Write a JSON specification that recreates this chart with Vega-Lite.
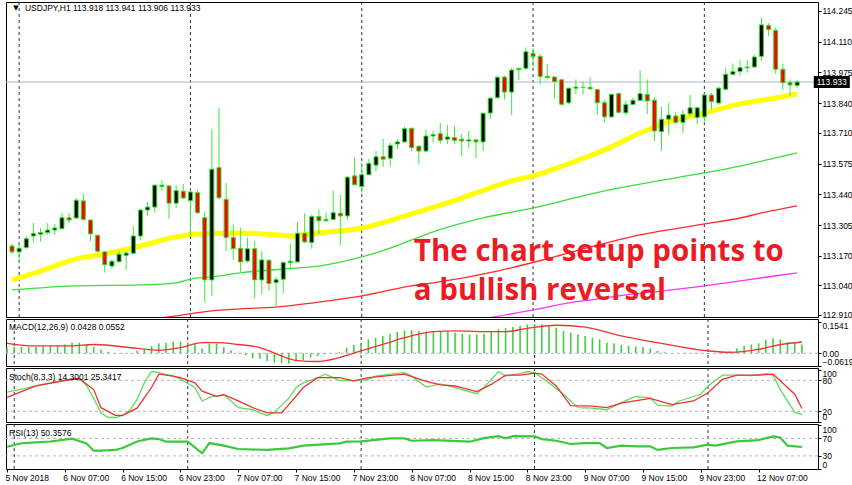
{
"$schema": "https://vega.github.io/schema/vega-lite/v6.json",
"background": "white",
"padding": {"left": 2, "top": 1, "right": 0, "bottom": 0},
"spacing": 2,
"bounds": "flush",
"config": {"view": {"stroke": "#000000", "strokeWidth": 1}, "axis": {"labelFont": "Liberation Sans", "labelFontSize": 8.5, "labelColor": "#000000", "tickColor": "#000000", "labelOverlap": false}},
"datasets": {
"bars": [
{"k":0,"time":"2018-11-05 23:00","o":113.213,"h":113.222,"l":113.178,"c":113.187,"macd":0.028},
{"k":1,"time":"2018-11-06 00:00","o":113.187,"h":113.231,"l":113.139,"c":113.203,"macd":0.031},
{"k":2,"time":"2018-11-06 01:00","o":113.206,"h":113.257,"l":113.201,"c":113.245,"macd":0.031},
{"k":3,"time":"2018-11-06 02:00","o":113.257,"h":113.314,"l":113.228,"c":113.267,"macd":0.031},
{"k":4,"time":"2018-11-06 03:00","o":113.265,"h":113.292,"l":113.232,"c":113.272,"macd":0.031},
{"k":5,"time":"2018-11-06 04:00","o":113.272,"h":113.314,"l":113.262,"c":113.283,"macd":0.033},
{"k":6,"time":"2018-11-06 05:00","o":113.283,"h":113.310,"l":113.262,"c":113.292,"macd":0.036},
{"k":7,"time":"2018-11-06 06:00","o":113.289,"h":113.359,"l":113.287,"c":113.337,"macd":0.039},
{"k":8,"time":"2018-11-06 07:00","o":113.337,"h":113.358,"l":113.314,"c":113.327,"macd":0.043},
{"k":9,"time":"2018-11-06 08:00","o":113.336,"h":113.424,"l":113.333,"c":113.414,"macd":0.051},
{"k":10,"time":"2018-11-06 09:00","o":113.411,"h":113.445,"l":113.327,"c":113.330,"macd":0.052},
{"k":11,"time":"2018-11-06 10:00","o":113.327,"h":113.330,"l":113.234,"c":113.266,"macd":0.043},
{"k":12,"time":"2018-11-06 11:00","o":113.260,"h":113.263,"l":113.184,"c":113.190,"macd":0.031},
{"k":13,"time":"2018-11-06 12:00","o":113.187,"h":113.190,"l":113.096,"c":113.131,"macd":0.019},
{"k":14,"time":"2018-11-06 13:00","o":113.125,"h":113.155,"l":113.113,"c":113.146,"macd":0.006},
{"k":15,"time":"2018-11-06 14:00","o":113.144,"h":113.193,"l":113.140,"c":113.177,"macd":0.0016},
{"k":16,"time":"2018-11-06 15:00","o":113.172,"h":113.190,"l":113.108,"c":113.182,"macd":-0.0016},
{"k":17,"time":"2018-11-06 16:00","o":113.181,"h":113.301,"l":113.178,"c":113.257,"macd":0.0016},
{"k":18,"time":"2018-11-06 17:00","o":113.257,"h":113.377,"l":113.236,"c":113.371,"macd":0.012},
{"k":19,"time":"2018-11-06 18:00","o":113.371,"h":113.406,"l":113.345,"c":113.384,"macd":0.019},
{"k":20,"time":"2018-11-06 19:00","o":113.384,"h":113.484,"l":113.359,"c":113.480,"macd":0.036},
{"k":21,"time":"2018-11-06 20:00","o":113.474,"h":113.503,"l":113.455,"c":113.480,"macd":0.049},
{"k":22,"time":"2018-11-06 21:00","o":113.477,"h":113.480,"l":113.333,"c":113.401,"macd":0.052},
{"k":23,"time":"2018-11-06 22:00","o":113.401,"h":113.480,"l":113.381,"c":113.456,"macd":0.057},
{"k":24,"time":"2018-11-06 23:00","o":113.453,"h":113.485,"l":113.418,"c":113.424,"macd":0.057},
{"k":25,"time":"2018-11-07 00:00","o":113.412,"h":113.459,"l":113.254,"c":113.450,"macd":0.052},
{"k":26,"time":"2018-11-07 01:00","o":113.447,"h":113.459,"l":113.354,"c":113.359,"macd":0.047},
{"k":27,"time":"2018-11-07 02:00","o":113.337,"h":113.363,"l":112.964,"c":113.064,"macd":0.024},
{"k":28,"time":"2018-11-07 03:00","o":113.064,"h":113.726,"l":112.994,"c":113.550,"macd":0.047},
{"k":29,"time":"2018-11-07 04:00","o":113.557,"h":113.820,"l":113.418,"c":113.425,"macd":0.047},
{"k":30,"time":"2018-11-07 05:00","o":113.418,"h":113.489,"l":113.191,"c":113.250,"macd":0.031},
{"k":31,"time":"2018-11-07 06:00","o":113.250,"h":113.308,"l":113.152,"c":113.201,"macd":0.015},
{"k":32,"time":"2018-11-07 07:00","o":113.203,"h":113.294,"l":113.099,"c":113.143,"macd":0.003},
{"k":33,"time":"2018-11-07 08:00","o":113.147,"h":113.250,"l":113.140,"c":113.201,"macd":-0.010},
{"k":34,"time":"2018-11-07 09:00","o":113.201,"h":113.235,"l":112.982,"c":113.064,"macd":-0.024},
{"k":35,"time":"2018-11-07 10:00","o":113.064,"h":113.191,"l":113.001,"c":113.152,"macd":-0.027},
{"k":36,"time":"2018-11-07 11:00","o":113.150,"h":113.155,"l":113.016,"c":113.048,"macd":-0.037},
{"k":37,"time":"2018-11-07 12:00","o":113.052,"h":113.078,"l":112.938,"c":113.065,"macd":-0.046},
{"k":38,"time":"2018-11-07 13:00","o":113.067,"h":113.147,"l":113.006,"c":113.140,"macd":-0.049},
{"k":39,"time":"2018-11-07 14:00","o":113.140,"h":113.225,"l":113.111,"c":113.146,"macd":-0.051},
{"k":40,"time":"2018-11-07 15:00","o":113.143,"h":113.319,"l":113.140,"c":113.269,"macd":-0.040},
{"k":41,"time":"2018-11-07 16:00","o":113.269,"h":113.357,"l":113.225,"c":113.231,"macd":-0.033},
{"k":42,"time":"2018-11-07 17:00","o":113.228,"h":113.351,"l":113.201,"c":113.342,"macd":-0.021},
{"k":43,"time":"2018-11-07 18:00","o":113.342,"h":113.374,"l":113.265,"c":113.324,"macd":-0.013},
{"k":44,"time":"2018-11-07 19:00","o":113.324,"h":113.359,"l":113.319,"c":113.330,"macd":-0.005},
{"k":45,"time":"2018-11-07 20:00","o":113.330,"h":113.455,"l":113.327,"c":113.359,"macd":0.0016},
{"k":46,"time":"2018-11-07 21:00","o":113.357,"h":113.438,"l":113.216,"c":113.345,"macd":0.006},
{"k":47,"time":"2018-11-07 22:00","o":113.345,"h":113.521,"l":113.327,"c":113.515,"macd":0.028},
{"k":48,"time":"2018-11-07 23:00","o":113.521,"h":113.601,"l":113.480,"c":113.482,"macd":0.040},
{"k":49,"time":"2018-11-08 00:00","o":113.474,"h":113.579,"l":113.447,"c":113.526,"macd":0.052},
{"k":50,"time":"2018-11-08 01:00","o":113.526,"h":113.597,"l":113.524,"c":113.576,"macd":0.068},
{"k":51,"time":"2018-11-08 02:00","o":113.568,"h":113.630,"l":113.541,"c":113.605,"macd":0.076},
{"k":52,"time":"2018-11-08 03:00","o":113.605,"h":113.684,"l":113.561,"c":113.594,"macd":0.085},
{"k":53,"time":"2018-11-08 04:00","o":113.598,"h":113.667,"l":113.561,"c":113.655,"macd":0.095},
{"k":54,"time":"2018-11-08 05:00","o":113.661,"h":113.682,"l":113.638,"c":113.670,"macd":0.104},
{"k":55,"time":"2018-11-08 06:00","o":113.670,"h":113.737,"l":113.667,"c":113.728,"macd":0.112},
{"k":56,"time":"2018-11-08 07:00","o":113.730,"h":113.733,"l":113.630,"c":113.645,"macd":0.113},
{"k":57,"time":"2018-11-08 08:00","o":113.651,"h":113.654,"l":113.572,"c":113.630,"macd":0.109},
{"k":58,"time":"2018-11-08 09:00","o":113.630,"h":113.724,"l":113.623,"c":113.696,"macd":0.106},
{"k":59,"time":"2018-11-08 10:00","o":113.696,"h":113.718,"l":113.667,"c":113.702,"macd":0.109},
{"k":60,"time":"2018-11-08 11:00","o":113.706,"h":113.753,"l":113.662,"c":113.677,"macd":0.109},
{"k":61,"time":"2018-11-08 12:00","o":113.682,"h":113.744,"l":113.662,"c":113.692,"macd":0.106},
{"k":62,"time":"2018-11-08 13:00","o":113.689,"h":113.739,"l":113.660,"c":113.677,"macd":0.101},
{"k":63,"time":"2018-11-08 14:00","o":113.682,"h":113.704,"l":113.608,"c":113.674,"macd":0.095},
{"k":64,"time":"2018-11-08 15:00","o":113.674,"h":113.718,"l":113.642,"c":113.679,"macd":0.092},
{"k":65,"time":"2018-11-08 16:00","o":113.679,"h":113.683,"l":113.598,"c":113.670,"macd":0.092},
{"k":66,"time":"2018-11-08 17:00","o":113.670,"h":113.798,"l":113.630,"c":113.796,"macd":0.095},
{"k":67,"time":"2018-11-08 18:00","o":113.797,"h":113.867,"l":113.770,"c":113.862,"macd":0.106},
{"k":68,"time":"2018-11-08 19:00","o":113.864,"h":113.961,"l":113.862,"c":113.954,"macd":0.117},
{"k":69,"time":"2018-11-08 20:00","o":113.955,"h":113.960,"l":113.857,"c":113.889,"macd":0.122},
{"k":70,"time":"2018-11-08 21:00","o":113.889,"h":113.996,"l":113.788,"c":113.986,"macd":0.128},
{"k":71,"time":"2018-11-08 22:00","o":113.987,"h":113.996,"l":113.941,"c":113.993,"macd":0.135},
{"k":72,"time":"2018-11-08 23:00","o":113.993,"h":114.084,"l":113.989,"c":114.066,"macd":0.141},
{"k":73,"time":"2018-11-09 00:00","o":114.058,"h":114.081,"l":113.996,"c":114.046,"macd":0.144},
{"k":74,"time":"2018-11-09 01:00","o":114.046,"h":114.055,"l":113.923,"c":113.958,"macd":0.141},
{"k":75,"time":"2018-11-09 02:00","o":113.958,"h":114.011,"l":113.945,"c":113.952,"macd":0.134},
{"k":76,"time":"2018-11-09 03:00","o":113.955,"h":113.958,"l":113.862,"c":113.935,"macd":0.125},
{"k":77,"time":"2018-11-09 04:00","o":113.943,"h":113.948,"l":113.827,"c":113.835,"macd":0.109},
{"k":78,"time":"2018-11-09 05:00","o":113.842,"h":113.908,"l":113.835,"c":113.906,"macd":0.101},
{"k":79,"time":"2018-11-09 06:00","o":113.906,"h":113.945,"l":113.879,"c":113.911,"macd":0.092},
{"k":80,"time":"2018-11-09 07:00","o":113.909,"h":113.935,"l":113.879,"c":113.910,"macd":0.085},
{"k":81,"time":"2018-11-09 08:00","o":113.910,"h":113.955,"l":113.900,"c":113.903,"macd":0.076},
{"k":82,"time":"2018-11-09 09:00","o":113.900,"h":113.903,"l":113.788,"c":113.842,"macd":0.068},
{"k":83,"time":"2018-11-09 10:00","o":113.842,"h":113.856,"l":113.755,"c":113.780,"macd":0.052},
{"k":84,"time":"2018-11-09 11:00","o":113.780,"h":113.882,"l":113.774,"c":113.879,"macd":0.049},
{"k":85,"time":"2018-11-09 12:00","o":113.882,"h":113.888,"l":113.797,"c":113.800,"macd":0.040},
{"k":86,"time":"2018-11-09 13:00","o":113.798,"h":113.850,"l":113.788,"c":113.835,"macd":0.036},
{"k":87,"time":"2018-11-09 14:00","o":113.835,"h":113.864,"l":113.832,"c":113.853,"macd":0.033},
{"k":88,"time":"2018-11-09 15:00","o":113.853,"h":113.985,"l":113.850,"c":113.882,"macd":0.031},
{"k":89,"time":"2018-11-09 16:00","o":113.879,"h":113.945,"l":113.791,"c":113.850,"macd":0.024},
{"k":90,"time":"2018-11-09 17:00","o":113.853,"h":113.867,"l":113.674,"c":113.718,"macd":0.012},
{"k":91,"time":"2018-11-09 18:00","o":113.715,"h":113.824,"l":113.630,"c":113.770,"macd":0.005},
{"k":92,"time":"2018-11-09 19:00","o":113.770,"h":113.842,"l":113.701,"c":113.788,"macd":0.0016},
{"k":93,"time":"2018-11-09 20:00","o":113.784,"h":113.803,"l":113.748,"c":113.756,"macd":0.0},
{"k":94,"time":"2018-11-09 21:00","o":113.756,"h":113.812,"l":113.709,"c":113.791,"macd":-0.0016},
{"k":95,"time":"2018-11-09 22:00","o":113.794,"h":113.876,"l":113.784,"c":113.820,"macd":-0.0016},
{"k":96,"time":"2018-11-09 23:00","o":113.777,"h":113.824,"l":113.748,"c":113.820,"macd":-0.0016},
{"k":97,"time":"2018-11-12 00:00","o":113.780,"h":113.885,"l":113.753,"c":113.876,"macd":-0.0016},
{"k":98,"time":"2018-11-12 01:00","o":113.876,"h":113.886,"l":113.812,"c":113.847,"macd":0.0},
{"k":99,"time":"2018-11-12 02:00","o":113.841,"h":113.911,"l":113.832,"c":113.906,"macd":0.005},
{"k":100,"time":"2018-11-12 03:00","o":113.901,"h":113.996,"l":113.897,"c":113.967,"macd":0.012},
{"k":101,"time":"2018-11-12 04:00","o":113.967,"h":114.014,"l":113.961,"c":113.979,"macd":0.024},
{"k":102,"time":"2018-11-12 05:00","o":113.979,"h":114.029,"l":113.961,"c":113.996,"macd":0.037},
{"k":103,"time":"2018-11-12 06:00","o":113.996,"h":114.031,"l":113.974,"c":113.999,"macd":0.043},
{"k":104,"time":"2018-11-12 07:00","o":113.999,"h":114.052,"l":113.996,"c":114.043,"macd":0.049},
{"k":105,"time":"2018-11-12 08:00","o":114.046,"h":114.216,"l":114.026,"c":114.184,"macd":0.065},
{"k":106,"time":"2018-11-12 09:00","o":114.181,"h":114.192,"l":114.134,"c":114.163,"macd":0.073},
{"k":107,"time":"2018-11-12 10:00","o":114.160,"h":114.172,"l":113.967,"c":113.989,"macd":0.068},
{"k":108,"time":"2018-11-12 11:00","o":113.989,"h":114.014,"l":113.897,"c":113.930,"macd":0.055},
{"k":109,"time":"2018-11-12 12:00","o":113.930,"h":113.945,"l":113.872,"c":113.920,"macd":0.052},
{"k":110,"time":"2018-11-12 13:00","o":113.918,"h":113.941,"l":113.906,"c":113.933,"macd":0.0428}
],
"ma_y": [{"k":0,"v":113.064},{"k":4,"v":113.103},{"k":9,"v":113.156},{"k":13,"v":113.178},{"k":18,"v":113.213},{"k":23,"v":113.253},{"k":26,"v":113.266},{"k":32,"v":113.270},{"k":37,"v":113.262},{"k":39,"v":113.257},{"k":43,"v":113.270},{"k":49,"v":113.292},{"k":56,"v":113.354},{"k":61,"v":113.402},{"k":65,"v":113.446},{"k":70,"v":113.499},{"k":73,"v":113.521},{"k":79,"v":113.586},{"k":83,"v":113.635},{"k":88,"v":113.709},{"k":92,"v":113.758},{"k":97,"v":113.797},{"k":102,"v":113.837},{"k":107,"v":113.863},{"k":110,"v":113.881}],
"ma_g": [{"k":0,"v":113.020},{"k":9,"v":113.038},{"k":18,"v":113.042},{"k":23,"v":113.051},{"k":25,"v":113.068},{"k":28,"v":113.077},{"k":32,"v":113.095},{"k":38,"v":113.112},{"k":43,"v":113.125},{"k":49,"v":113.165},{"k":53,"v":113.204},{"k":56,"v":113.240},{"k":59,"v":113.275},{"k":66,"v":113.336},{"k":73,"v":113.380},{"k":80,"v":113.433},{"k":83,"v":113.455},{"k":88,"v":113.485},{"k":92,"v":113.507},{"k":97,"v":113.534},{"k":102,"v":113.564},{"k":107,"v":113.600},{"k":110,"v":113.622}],
"ma_r": [{"k":20,"v":112.893},{"k":23,"v":112.906},{"k":28,"v":112.928},{"k":32,"v":112.937},{"k":37,"v":112.945},{"k":41,"v":112.959},{"k":49,"v":112.994},{"k":56,"v":113.038},{"k":59,"v":113.051},{"k":68,"v":113.103},{"k":75,"v":113.157},{"k":80,"v":113.200},{"k":86,"v":113.248},{"k":91,"v":113.279},{"k":97,"v":113.310},{"k":102,"v":113.336},{"k":105,"v":113.358},{"k":110,"v":113.389}],
"ma_m": [{"k":66,"v":112.893},{"k":73,"v":112.932},{"k":78,"v":112.963},{"k":82,"v":112.980},{"k":86,"v":112.998},{"k":91,"v":113.015},{"k":97,"v":113.038},{"k":102,"v":113.060},{"k":110,"v":113.095}],
"sig": [{"k":0,"v":0.049},{"k":4,"v":0.036},{"k":9,"v":0.036},{"k":12,"v":0.043},{"k":18,"v":0.024},{"k":21,"v":0.015},{"k":24,"v":0.028},{"k":27,"v":0.052},{"k":29,"v":0.052},{"k":32,"v":0.043},{"k":35,"v":0.028},{"k":38,"v":-0.013},{"k":40,"v":-0.034},{"k":43,"v":-0.040},{"k":46,"v":-0.021},{"k":49,"v":0.012},{"k":52,"v":0.043},{"k":55,"v":0.076},{"k":59,"v":0.106},{"k":62,"v":0.109},{"k":67,"v":0.106},{"k":69,"v":0.106},{"k":72,"v":0.122},{"k":76,"v":0.137},{"k":80,"v":0.128},{"k":85,"v":0.085},{"k":90,"v":0.052},{"k":97,"v":0.012},{"k":100,"v":0.005},{"k":104,"v":0.019},{"k":107,"v":0.043},{"k":110,"v":0.0552}],
"stk": [{"k":0,"v":57},{"k":2,"v":63},{"k":4,"v":69},{"k":7,"v":78},{"k":9,"v":82},{"k":10,"v":84},{"k":11,"v":70},{"k":12,"v":45},{"k":13,"v":17},{"k":14,"v":8},{"k":15,"v":8},{"k":16,"v":12},{"k":17,"v":22},{"k":18,"v":43},{"k":19,"v":75},{"k":20,"v":97},{"k":21,"v":95},{"k":23,"v":88},{"k":24,"v":82},{"k":26,"v":66},{"k":27,"v":40},{"k":28,"v":47},{"k":29,"v":50},{"k":30,"v":52},{"k":31,"v":40},{"k":32,"v":27},{"k":34,"v":23},{"k":35,"v":17},{"k":36,"v":12},{"k":37,"v":18},{"k":38,"v":32},{"k":39,"v":45},{"k":40,"v":66},{"k":41,"v":75},{"k":43,"v":85},{"k":44,"v":92},{"k":45,"v":86},{"k":46,"v":80},{"k":48,"v":79},{"k":50,"v":82},{"k":51,"v":88},{"k":53,"v":92},{"k":55,"v":95},{"k":56,"v":88},{"k":58,"v":67},{"k":60,"v":73},{"k":62,"v":66},{"k":65,"v":54},{"k":66,"v":66},{"k":68,"v":97},{"k":69,"v":88},{"k":71,"v":93},{"k":72,"v":97},{"k":73,"v":95},{"k":75,"v":75},{"k":77,"v":53},{"k":79,"v":27},{"k":81,"v":26},{"k":83,"v":23},{"k":84,"v":30},{"k":86,"v":43},{"k":87,"v":49},{"k":89,"v":46},{"k":90,"v":32},{"k":92,"v":30},{"k":93,"v":40},{"k":96,"v":53},{"k":97,"v":69},{"k":99,"v":90},{"k":101,"v":90},{"k":103,"v":89},{"k":105,"v":93},{"k":106,"v":90},{"k":107,"v":62},{"k":109,"v":18},{"k":110,"v":14.3}],
"std": [{"k":0,"v":47},{"k":4,"v":69},{"k":9,"v":82},{"k":10,"v":83},{"k":12,"v":62},{"k":13,"v":27},{"k":15,"v":12},{"k":16,"v":12},{"k":18,"v":26},{"k":20,"v":66},{"k":21,"v":92},{"k":23,"v":88},{"k":24,"v":85},{"k":26,"v":75},{"k":27,"v":59},{"k":29,"v":49},{"k":30,"v":52},{"k":32,"v":40},{"k":34,"v":27},{"k":36,"v":17},{"k":38,"v":17},{"k":39,"v":33},{"k":41,"v":66},{"k":43,"v":85},{"k":46,"v":85},{"k":48,"v":79},{"k":50,"v":85},{"k":55,"v":92},{"k":58,"v":78},{"k":60,"v":71},{"k":62,"v":69},{"k":65,"v":58},{"k":67,"v":72},{"k":69,"v":90},{"k":71,"v":90},{"k":73,"v":94},{"k":74,"v":92},{"k":76,"v":69},{"k":78,"v":31},{"k":81,"v":30},{"k":83,"v":27},{"k":85,"v":36},{"k":89,"v":45},{"k":92,"v":33},{"k":95,"v":40},{"k":97,"v":56},{"k":99,"v":82},{"k":101,"v":90},{"k":104,"v":90},{"k":106,"v":92},{"k":107,"v":79},{"k":109,"v":53},{"k":110,"v":25.3}],
"rsi": [{"k":0,"v":51},{"k":2,"v":59},{"k":4,"v":61},{"k":6,"v":63},{"k":9,"v":69.5},{"k":11,"v":58.7},{"k":12,"v":42},{"k":13,"v":42},{"k":15,"v":43.6},{"k":16,"v":48},{"k":18,"v":63},{"k":20,"v":70},{"k":21,"v":68.5},{"k":22,"v":62.5},{"k":25,"v":62.5},{"k":26,"v":49.6},{"k":27,"v":36},{"k":28,"v":59.4},{"k":30,"v":53.4},{"k":32,"v":45.8},{"k":36,"v":43.6},{"k":39,"v":47.3},{"k":41,"v":53.4},{"k":46,"v":58.7},{"k":47,"v":62.5},{"k":49,"v":63.2},{"k":53,"v":70},{"k":55,"v":70},{"k":56,"v":64.7},{"k":59,"v":66},{"k":64,"v":62.5},{"k":66,"v":70.8},{"k":68,"v":75.3},{"k":69,"v":70},{"k":70,"v":75.3},{"k":73,"v":74.5},{"k":74,"v":68.5},{"k":76,"v":64.7},{"k":78,"v":57.2},{"k":80,"v":59.4},{"k":82,"v":59.4},{"k":83,"v":48.1},{"k":85,"v":53.4},{"k":87,"v":51.9},{"k":89,"v":51.9},{"k":90,"v":43.6},{"k":92,"v":48.1},{"k":95,"v":49.6},{"k":97,"v":55.7},{"k":98,"v":53.4},{"k":101,"v":63.2},{"k":104,"v":66.2},{"k":106,"v":74.5},{"k":107,"v":72.3},{"k":108,"v":53.4},{"k":110,"v":50.36}],
"seps": [{"k":1},{"k":25},{"k":49},{"k":73},{"k":97}],
"last": [{"p":113.933,"txt":"113.933"}]
},
"vconcat": [
{
"width": 812, "height": 315,
"layer": [
{"data": {"name": "seps"}, "mark": {"type": "rule", "color": "#333333", "strokeDash": [3, 3], "strokeWidth": 1},
 "encoding": {"x": {"field": "k", "type": "quantitative", "scale": {"domain": [-0.138, 112.22], "nice": false, "zero": false}, "axis": null}}},
{"data": {"name": "last"}, "mark": {"type": "rule", "color": "#a9b7c6", "strokeWidth": 1},
 "encoding": {"y": {"field": "p", "type": "quantitative", "scale": {"domain": [112.9012, 114.2845], "nice": false, "zero": false},
   "axis": {"orient": "right", "title": null, "values": [112.91, 113.04, 113.17, 113.305, 113.44, 113.575, 113.71, 113.84, 113.975, 114.11, 114.245], "format": ".3f", "tickSize": 3, "labelPadding": 1, "labelOverlap": false, "domain": false, "grid": false}}}},
{"data": {"name": "ma_m"}, "mark": {"type": "line", "color": "#ff33ff", "strokeWidth": 1.3, "interpolate": "monotone", "clip": true},
 "encoding": {"x": {"field": "k", "type": "quantitative", "scale": {"domain": [-0.138, 112.22], "nice": false, "zero": false}, "axis": null},
  "y": {"field": "v", "type": "quantitative", "scale": {"domain": [112.9012, 114.2845], "nice": false, "zero": false},
   "axis": {"orient": "right", "title": null, "values": [112.91, 113.04, 113.17, 113.305, 113.44, 113.575, 113.71, 113.84, 113.975, 114.11, 114.245], "format": ".3f", "tickSize": 3, "labelPadding": 1, "labelOverlap": false, "domain": false, "grid": false}}}},
{"data": {"name": "ma_r"}, "mark": {"type": "line", "color": "#ff2a2a", "strokeWidth": 1.3, "interpolate": "monotone", "clip": true},
 "encoding": {"x": {"field": "k", "type": "quantitative", "scale": {"domain": [-0.138, 112.22], "nice": false, "zero": false}, "axis": null},
  "y": {"field": "v", "type": "quantitative", "scale": {"domain": [112.9012, 114.2845], "nice": false, "zero": false},
   "axis": {"orient": "right", "title": null, "values": [112.91, 113.04, 113.17, 113.305, 113.44, 113.575, 113.71, 113.84, 113.975, 114.11, 114.245], "format": ".3f", "tickSize": 3, "labelPadding": 1, "labelOverlap": false, "domain": false, "grid": false}}}},
{"data": {"name": "ma_g"}, "mark": {"type": "line", "color": "#3ddc3d", "strokeWidth": 1.3, "interpolate": "monotone", "clip": true},
 "encoding": {"x": {"field": "k", "type": "quantitative", "scale": {"domain": [-0.138, 112.22], "nice": false, "zero": false}, "axis": null},
  "y": {"field": "v", "type": "quantitative", "scale": {"domain": [112.9012, 114.2845], "nice": false, "zero": false},
   "axis": {"orient": "right", "title": null, "values": [112.91, 113.04, 113.17, 113.305, 113.44, 113.575, 113.71, 113.84, 113.975, 114.11, 114.245], "format": ".3f", "tickSize": 3, "labelPadding": 1, "labelOverlap": false, "domain": false, "grid": false}}}},
{"data": {"name": "ma_y"}, "mark": {"type": "line", "color": "#ffff00", "strokeWidth": 5, "interpolate": "monotone", "clip": true},
 "encoding": {"x": {"field": "k", "type": "quantitative", "scale": {"domain": [-0.138, 112.22], "nice": false, "zero": false}, "axis": null},
  "y": {"field": "v", "type": "quantitative", "scale": {"domain": [112.9012, 114.2845], "nice": false, "zero": false},
   "axis": {"orient": "right", "title": null, "values": [112.91, 113.04, 113.17, 113.305, 113.44, 113.575, 113.71, 113.84, 113.975, 114.11, 114.245], "format": ".3f", "tickSize": 3, "labelPadding": 1, "labelOverlap": false, "domain": false, "grid": false}}}},
{"data": {"name": "bars"}, "mark": {"type": "rule", "color": "#3ee83e", "strokeWidth": 1, "clip": true},
 "encoding": {"x": {"field": "k", "type": "quantitative", "scale": {"domain": [-0.138, 112.22], "nice": false, "zero": false}, "axis": null},
  "y": {"field": "l", "type": "quantitative", "scale": {"domain": [112.9012, 114.2845], "nice": false, "zero": false},
   "axis": {"orient": "right", "title": null, "values": [112.91, 113.04, 113.17, 113.305, 113.44, 113.575, 113.71, 113.84, 113.975, 114.11, 114.245], "format": ".3f", "tickSize": 3, "labelPadding": 1, "labelOverlap": false, "domain": false, "grid": false}},
  "y2": {"field": "h"}}},
{"data": {"name": "bars"}, "mark": {"type": "bar", "width": 4, "stroke": "#22e622", "strokeWidth": 1, "clip": true},
 "encoding": {"x": {"field": "k", "type": "quantitative", "scale": {"domain": [-0.138, 112.22], "nice": false, "zero": false}, "axis": null},
  "y": {"field": "o", "type": "quantitative", "scale": {"domain": [112.9012, 114.2845], "nice": false, "zero": false},
   "axis": {"orient": "right", "title": null, "values": [112.91, 113.04, 113.17, 113.305, 113.44, 113.575, 113.71, 113.84, 113.975, 114.11, 114.245], "format": ".3f", "tickSize": 3, "labelPadding": 1, "labelOverlap": false, "domain": false, "grid": false}},
  "y2": {"field": "c"},
  "fill": {"condition": {"test": "datum.c >= datum.o", "value": "#000000"}, "value": "#ff0000"}}},
{"data": {"values": [{"txt": "▼"}]}, "mark": {"type": "text", "align": "center", "baseline": "middle", "dx": 4, "font": "DejaVu Sans", "fontSize": 7, "color": "#000000"},
 "encoding": {"x": {"datum": 0, "type": "quantitative", "scale": {"domain": [-0.138, 112.22], "nice": false, "zero": false}, "axis": null},
  "y": {"datum": 114.256, "type": "quantitative", "scale": {"domain": [112.9012, 114.2845], "nice": false, "zero": false},
   "axis": {"orient": "right", "title": null, "values": [112.91, 113.04, 113.17, 113.305, 113.44, 113.575, 113.71, 113.84, 113.975, 114.11, 114.245], "format": ".3f", "tickSize": 3, "labelPadding": 1, "labelOverlap": false, "domain": false, "grid": false}},
  "text": {"field": "txt"}}},
{"data": {"values": [{"txt": "USDJPY,H1  113.918 113.941 113.906 113.933"}]}, "mark": {"type": "text", "align": "left", "baseline": "middle", "dx": 13, "font": "Liberation Sans", "fontSize": 8.5, "color": "#000000"},
 "encoding": {"x": {"datum": 0, "type": "quantitative", "scale": {"domain": [-0.138, 112.22], "nice": false, "zero": false}, "axis": null},
  "y": {"datum": 114.256, "type": "quantitative", "scale": {"domain": [112.9012, 114.2845], "nice": false, "zero": false},
   "axis": {"orient": "right", "title": null, "values": [112.91, 113.04, 113.17, 113.305, 113.44, 113.575, 113.71, 113.84, 113.975, 114.11, 114.245], "format": ".3f", "tickSize": 3, "labelPadding": 1, "labelOverlap": false, "domain": false, "grid": false}},
  "text": {"field": "txt"}}},
{"data": {"values": [{"txt": "The chart setup points to"}]}, "mark": {"type": "text", "align": "left", "baseline": "alphabetic", "dx": -5, "font": "Open Sans", "fontWeight": "bold", "fontSize": 29.5, "color": "#ec1c24"},
 "encoding": {"x": {"datum": 57, "type": "quantitative", "scale": {"domain": [-0.138, 112.22], "nice": false, "zero": false}, "axis": null},
  "y": {"datum": 113.147, "type": "quantitative", "scale": {"domain": [112.9012, 114.2845], "nice": false, "zero": false},
   "axis": {"orient": "right", "title": null, "values": [112.91, 113.04, 113.17, 113.305, 113.44, 113.575, 113.71, 113.84, 113.975, 114.11, 114.245], "format": ".3f", "tickSize": 3, "labelPadding": 1, "labelOverlap": false, "domain": false, "grid": false}},
  "text": {"field": "txt"}}},
{"data": {"values": [{"txt": "a bullish reversal"}]}, "mark": {"type": "text", "align": "left", "baseline": "alphabetic", "dx": -5, "font": "Open Sans", "fontWeight": "bold", "fontSize": 29.5, "color": "#ec1c24"},
 "encoding": {"x": {"datum": 57, "type": "quantitative", "scale": {"domain": [-0.138, 112.22], "nice": false, "zero": false}, "axis": null},
  "y": {"datum": 112.974, "type": "quantitative", "scale": {"domain": [112.9012, 114.2845], "nice": false, "zero": false},
   "axis": {"orient": "right", "title": null, "values": [112.91, 113.04, 113.17, 113.305, 113.44, 113.575, 113.71, 113.84, 113.975, 114.11, 114.245], "format": ".3f", "tickSize": 3, "labelPadding": 1, "labelOverlap": false, "domain": false, "grid": false}},
  "text": {"field": "txt"}}},
{"data": {"name": "last"}, "mark": {"type": "bar", "width": 36, "color": "#000000", "clip": false},
 "encoding": {"x": {"datum": 114.85, "type": "quantitative", "scale": {"domain": [-0.138, 112.22], "nice": false, "zero": false}, "axis": null},
  "y": {"datum": 113.9595, "type": "quantitative", "scale": {"domain": [112.9012, 114.2845], "nice": false, "zero": false},
   "axis": {"orient": "right", "title": null, "values": [112.91, 113.04, 113.17, 113.305, 113.44, 113.575, 113.71, 113.84, 113.975, 114.11, 114.245], "format": ".3f", "tickSize": 3, "labelPadding": 1, "labelOverlap": false, "domain": false, "grid": false}},
  "y2": {"datum": 113.9065}}},
{"data": {"name": "last"}, "mark": {"type": "text", "align": "center", "baseline": "middle", "font": "Liberation Sans", "fontSize": 8.5, "color": "#ffffff", "clip": false},
 "encoding": {"x": {"datum": 114.85, "type": "quantitative", "scale": {"domain": [-0.138, 112.22], "nice": false, "zero": false}, "axis": null},
  "y": {"field": "p", "type": "quantitative", "scale": {"domain": [112.9012, 114.2845], "nice": false, "zero": false},
   "axis": {"orient": "right", "title": null, "values": [112.91, 113.04, 113.17, 113.305, 113.44, 113.575, 113.71, 113.84, 113.975, 114.11, 114.245], "format": ".3f", "tickSize": 3, "labelPadding": 1, "labelOverlap": false, "domain": false, "grid": false}},
  "text": {"field": "txt"}}}
]
},
{
"width": 812, "height": 47,
"layer": [
{"data": {"name": "seps"}, "mark": {"type": "rule", "color": "#333333", "strokeDash": [3, 3], "strokeWidth": 1},
 "encoding": {"x": {"field": "k", "type": "quantitative", "scale": {"domain": [-0.138, 112.22], "nice": false, "zero": false}, "axis": null}}},
{"data": {"values": [{"lv": 0}]}, "mark": {"type": "rule", "color": "#b4b4b4", "strokeDash": [3, 3], "strokeWidth": 1},
 "encoding": {"y": {"field": "lv", "type": "quantitative", "scale": {"domain": [-0.0619, 0.1674], "nice": false, "zero": false},
   "axis": {"orient": "right", "title": null, "values": [-0.0619, 0, 0.1541], "labelExpr": "datum.value == 0 ? '0.00' : format(datum.value, '.4f')", "tickSize": 3, "labelPadding": 1, "labelOverlap": false, "domain": false, "grid": false,
     "labelBaseline": {"condition": [{"test": "datum.value > 0.1", "value": "top"}, {"test": "datum.value < -0.01", "value": "bottom"}], "value": "middle"}}}}},
{"data": {"name": "bars"}, "mark": {"type": "rule", "color": "#44cc44", "strokeWidth": 1.6},
 "encoding": {"x": {"field": "k", "type": "quantitative", "scale": {"domain": [-0.138, 112.22], "nice": false, "zero": false}, "axis": null},
  "y": {"field": "macd", "type": "quantitative", "scale": {"domain": [-0.0619, 0.1674], "nice": false, "zero": false},
   "axis": {"orient": "right", "title": null, "values": [-0.0619, 0, 0.1541], "labelExpr": "datum.value == 0 ? '0.00' : format(datum.value, '.4f')", "tickSize": 3, "labelPadding": 1, "labelOverlap": false, "domain": false, "grid": false,
     "labelBaseline": {"condition": [{"test": "datum.value > 0.1", "value": "top"}, {"test": "datum.value < -0.01", "value": "bottom"}], "value": "middle"}}},
  "y2": {"datum": 0}}},
{"data": {"name": "sig"}, "mark": {"type": "line", "color": "#f03232", "strokeWidth": 1.3, "interpolate": "monotone"},
 "encoding": {"x": {"field": "k", "type": "quantitative", "scale": {"domain": [-0.138, 112.22], "nice": false, "zero": false}, "axis": null},
  "y": {"field": "v", "type": "quantitative", "scale": {"domain": [-0.0619, 0.1674], "nice": false, "zero": false},
   "axis": {"orient": "right", "title": null, "values": [-0.0619, 0, 0.1541], "labelExpr": "datum.value == 0 ? '0.00' : format(datum.value, '.4f')", "tickSize": 3, "labelPadding": 1, "labelOverlap": false, "domain": false, "grid": false,
     "labelBaseline": {"condition": [{"test": "datum.value > 0.1", "value": "top"}, {"test": "datum.value < -0.01", "value": "bottom"}], "value": "middle"}}}}},
{"data": {"values": [{"txt": "MACD(12,26,9) 0.0428 0.0552"}]}, "mark": {"type": "text", "align": "left", "baseline": "middle", "dx": 2, "font": "Liberation Sans", "fontSize": 8.5, "color": "#000000"},
 "encoding": {"x": {"datum": 0, "type": "quantitative", "scale": {"domain": [-0.138, 112.22], "nice": false, "zero": false}, "axis": null},
  "y": {"datum": 0.1284, "type": "quantitative", "scale": {"domain": [-0.0619, 0.1674], "nice": false, "zero": false},
   "axis": {"orient": "right", "title": null, "values": [-0.0619, 0, 0.1541], "labelExpr": "datum.value == 0 ? '0.00' : format(datum.value, '.4f')", "tickSize": 3, "labelPadding": 1, "labelOverlap": false, "domain": false, "grid": false,
     "labelBaseline": {"condition": [{"test": "datum.value > 0.1", "value": "top"}, {"test": "datum.value < -0.01", "value": "bottom"}], "value": "middle"}}},
  "text": {"field": "txt"}}}
]
},
{
"width": 812, "height": 54,
"layer": [
{"data": {"name": "seps"}, "mark": {"type": "rule", "color": "#333333", "strokeDash": [3, 3], "strokeWidth": 1},
 "encoding": {"x": {"field": "k", "type": "quantitative", "scale": {"domain": [-0.138, 112.22], "nice": false, "zero": false}, "axis": null}}},
{"data": {"values": [{"lv": 20}, {"lv": 80}]}, "mark": {"type": "rule", "color": "#b4b4b4", "strokeDash": [3, 3], "strokeWidth": 1},
 "encoding": {"y": {"field": "lv", "type": "quantitative", "scale": {"domain": [-0.7, 103.8], "nice": false, "zero": false},
   "axis": {"orient": "right", "title": null, "values": [0, 20, 80, 100], "tickSize": 3, "labelPadding": 1, "labelOverlap": false, "domain": false, "grid": false,
     "labelBaseline": {"condition": [{"test": "datum.value == 100", "value": "top"}, {"test": "datum.value == 0", "value": "bottom"}], "value": "middle"}}}}},
{"data": {"name": "stk"}, "mark": {"type": "line", "color": "#5fdc5f", "strokeWidth": 1.3, "clip": true},
 "encoding": {"x": {"field": "k", "type": "quantitative", "scale": {"domain": [-0.138, 112.22], "nice": false, "zero": false}, "axis": null},
  "y": {"field": "v", "type": "quantitative", "scale": {"domain": [-0.7, 103.8], "nice": false, "zero": false},
   "axis": {"orient": "right", "title": null, "values": [0, 20, 80, 100], "tickSize": 3, "labelPadding": 1, "labelOverlap": false, "domain": false, "grid": false,
     "labelBaseline": {"condition": [{"test": "datum.value == 100", "value": "top"}, {"test": "datum.value == 0", "value": "bottom"}], "value": "middle"}}}}},
{"data": {"name": "std"}, "mark": {"type": "line", "color": "#f03030", "strokeWidth": 1.3, "clip": true},
 "encoding": {"x": {"field": "k", "type": "quantitative", "scale": {"domain": [-0.138, 112.22], "nice": false, "zero": false}, "axis": null},
  "y": {"field": "v", "type": "quantitative", "scale": {"domain": [-0.7, 103.8], "nice": false, "zero": false},
   "axis": {"orient": "right", "title": null, "values": [0, 20, 80, 100], "tickSize": 3, "labelPadding": 1, "labelOverlap": false, "domain": false, "grid": false,
     "labelBaseline": {"condition": [{"test": "datum.value == 100", "value": "top"}, {"test": "datum.value == 0", "value": "bottom"}], "value": "middle"}}}}},
{"data": {"values": [{"txt": "Stoch(8,3,3) 14.3001 25.3417"}]}, "mark": {"type": "text", "align": "left", "baseline": "middle", "dx": 2, "font": "Liberation Sans", "fontSize": 8.5, "color": "#000000"},
 "encoding": {"x": {"datum": 0, "type": "quantitative", "scale": {"domain": [-0.138, 112.22], "nice": false, "zero": false}, "axis": null},
  "y": {"datum": 86.4, "type": "quantitative", "scale": {"domain": [-0.7, 103.8], "nice": false, "zero": false},
   "axis": {"orient": "right", "title": null, "values": [0, 20, 80, 100], "tickSize": 3, "labelPadding": 1, "labelOverlap": false, "domain": false, "grid": false,
     "labelBaseline": {"condition": [{"test": "datum.value == 100", "value": "top"}, {"test": "datum.value == 0", "value": "bottom"}], "value": "middle"}}},
  "text": {"field": "txt"}}}
]
},
{
"width": 812, "height": 45,
"layer": [
{"data": {"name": "seps"}, "mark": {"type": "rule", "color": "#333333", "strokeDash": [3, 3], "strokeWidth": 1},
 "encoding": {"x": {"field": "k", "type": "quantitative", "scale": {"domain": [-0.138, 112.22], "nice": false, "zero": false},
   "axis": {"orient": "bottom", "title": null, "values": [0, 8, 16, 24, 32, 40, 48, 56, 64, 72, 80, 88, 96, 104],
     "labelExpr": "['5 Nov 2018','6 Nov 07:00','6 Nov 15:00','6 Nov 23:00','7 Nov 07:00','7 Nov 15:00','7 Nov 23:00','8 Nov 07:00','8 Nov 15:00','8 Nov 23:00','9 Nov 07:00','9 Nov 15:00','9 Nov 23:00','12 Nov 07:00'][round(datum.value / 8)]",
     "labelAlign": "left", "labelBaseline": "top", "labelOffset": -2, "labelFlush": false, "labelOverlap": false, "tickSize": 3, "labelPadding": 1, "domain": false, "grid": false}}}},
{"data": {"values": [{"lv": 30}, {"lv": 70}]}, "mark": {"type": "rule", "color": "#b4b4b4", "strokeDash": [3, 3], "strokeWidth": 1},
 "encoding": {"y": {"field": "lv", "type": "quantitative", "scale": {"domain": [0, 103], "nice": false, "zero": false},
   "axis": {"orient": "right", "title": null, "values": [0, 30, 70, 100], "tickSize": 3, "labelPadding": 1, "labelOverlap": false, "domain": false, "grid": false,
     "labelBaseline": {"condition": [{"test": "datum.value == 100", "value": "top"}, {"test": "datum.value == 0", "value": "bottom"}], "value": "middle"}}}}},
{"data": {"name": "rsi"}, "mark": {"type": "line", "color": "#3cc83c", "strokeWidth": 2.2},
 "encoding": {"x": {"field": "k", "type": "quantitative", "scale": {"domain": [-0.138, 112.22], "nice": false, "zero": false},
   "axis": {"orient": "bottom", "title": null, "values": [0, 8, 16, 24, 32, 40, 48, 56, 64, 72, 80, 88, 96, 104],
     "labelExpr": "['5 Nov 2018','6 Nov 07:00','6 Nov 15:00','6 Nov 23:00','7 Nov 07:00','7 Nov 15:00','7 Nov 23:00','8 Nov 07:00','8 Nov 15:00','8 Nov 23:00','9 Nov 07:00','9 Nov 15:00','9 Nov 23:00','12 Nov 07:00'][round(datum.value / 8)]",
     "labelAlign": "left", "labelBaseline": "top", "labelOffset": -2, "labelFlush": false, "labelOverlap": false, "tickSize": 3, "labelPadding": 1, "domain": false, "grid": false}},
  "y": {"field": "v", "type": "quantitative", "scale": {"domain": [0, 103], "nice": false, "zero": false},
   "axis": {"orient": "right", "title": null, "values": [0, 30, 70, 100], "tickSize": 3, "labelPadding": 1, "labelOverlap": false, "domain": false, "grid": false,
     "labelBaseline": {"condition": [{"test": "datum.value == 100", "value": "top"}, {"test": "datum.value == 0", "value": "bottom"}], "value": "middle"}}}}},
{"data": {"values": [{"txt": "RSI(13) 50.3576"}]}, "mark": {"type": "text", "align": "left", "baseline": "middle", "dx": 2, "font": "Liberation Sans", "fontSize": 8.5, "color": "#000000"},
 "encoding": {"x": {"datum": 0, "type": "quantitative", "scale": {"domain": [-0.138, 112.22], "nice": false, "zero": false},
   "axis": {"orient": "bottom", "title": null, "values": [0, 8, 16, 24, 32, 40, 48, 56, 64, 72, 80, 88, 96, 104],
     "labelExpr": "['5 Nov 2018','6 Nov 07:00','6 Nov 15:00','6 Nov 23:00','7 Nov 07:00','7 Nov 15:00','7 Nov 23:00','8 Nov 07:00','8 Nov 15:00','8 Nov 23:00','9 Nov 07:00','9 Nov 15:00','9 Nov 23:00','12 Nov 07:00'][round(datum.value / 8)]",
     "labelAlign": "left", "labelBaseline": "top", "labelOffset": -2, "labelFlush": false, "labelOverlap": false, "tickSize": 3, "labelPadding": 1, "domain": false, "grid": false}},
  "y": {"datum": 82.4, "type": "quantitative", "scale": {"domain": [0, 103], "nice": false, "zero": false},
   "axis": {"orient": "right", "title": null, "values": [0, 30, 70, 100], "tickSize": 3, "labelPadding": 1, "labelOverlap": false, "domain": false, "grid": false,
     "labelBaseline": {"condition": [{"test": "datum.value == 100", "value": "top"}, {"test": "datum.value == 0", "value": "bottom"}], "value": "middle"}}},
  "text": {"field": "txt"}}}
]
}
]
}
